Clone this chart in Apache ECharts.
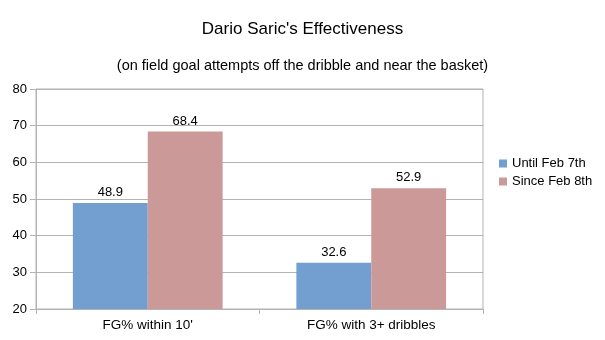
<!DOCTYPE html>
<html><head><meta charset="utf-8">
<script src="https://cdn.jsdelivr.net/npm/echarts@6/dist/echarts.min.js"></script>
<style>html,body{margin:0;padding:0;background:#fff}#c{width:605px;height:340px}</style>
</head><body><div id="c"></div>
<script>
const categories = ["FG% within 10'", "FG% with 3+ dribbles"];
const seriesNames = ["Until Feb 7th", "Since Feb 8th"];
const untilFeb7 = [48.9, 32.6];
const sinceFeb8 = [68.4, 52.9];
const titleText = "Dario Saric's Effectiveness";
const subtitleText = "(on field goal attempts off the dribble and near the basket)";

const font = "Liberation Sans";
const chart = echarts.init(document.getElementById('c'), null, {renderer: 'canvas'});
const labelCfg = {show: true, position: 'top', distance: 4, color: '#000', fontFamily: font, fontSize: 13, formatter: p => p.value.toFixed(1)};
chart.setOption({
  animation: false,
  title: [
    {text: titleText, left: 'center', top: 16, textStyle: {fontFamily: font, fontSize: 17, fontWeight: 'normal', color: '#000'}},
    {text: subtitleText, left: 'center', top: 53, textStyle: {fontFamily: font, fontSize: 14.5, fontWeight: 'normal', color: '#000'}}
  ],
  legend: {
    orient: 'vertical', left: 494, top: 152, itemWidth: 8, itemHeight: 8, itemGap: 5,
    icon: 'rect', textStyle: {fontFamily: font, fontSize: 13, color: '#000'},
    data: seriesNames
  },
  grid: {left: 36, right: 122, top: 89, bottom: 31, show: true, borderColor: '#b3b3b3', borderWidth: 1},
  xAxis: {
    type: 'category', data: categories,
    axisLine: {lineStyle: {color: '#b3b3b3'}},
    axisTick: {show: true, length: 5, lineStyle: {color: '#b3b3b3'}},
    axisLabel: {color: '#000', fontFamily: font, fontSize: 13.5, margin: 9}
  },
  yAxis: {
    type: 'value', min: 20, max: 80, interval: 10,
    axisLine: {show: true, lineStyle: {color: '#b3b3b3'}},
    axisTick: {show: true, length: 6, lineStyle: {color: '#b3b3b3'}},
    axisLabel: {color: '#000', fontFamily: font, fontSize: 13, margin: 9},
    splitLine: {lineStyle: {color: '#b3b3b3'}}
  },
  series: [
    {name: seriesNames[0], type: 'bar', data: untilFeb7, barGap: '0%', barCategoryGap: '33%', itemStyle: {color: '#729fcf'}, label: labelCfg},
    {name: seriesNames[1], type: 'bar', data: sinceFeb8, barGap: '0%', barCategoryGap: '33%', itemStyle: {color: '#cc9999'}, label: labelCfg}
  ]
});
</script></body></html>
